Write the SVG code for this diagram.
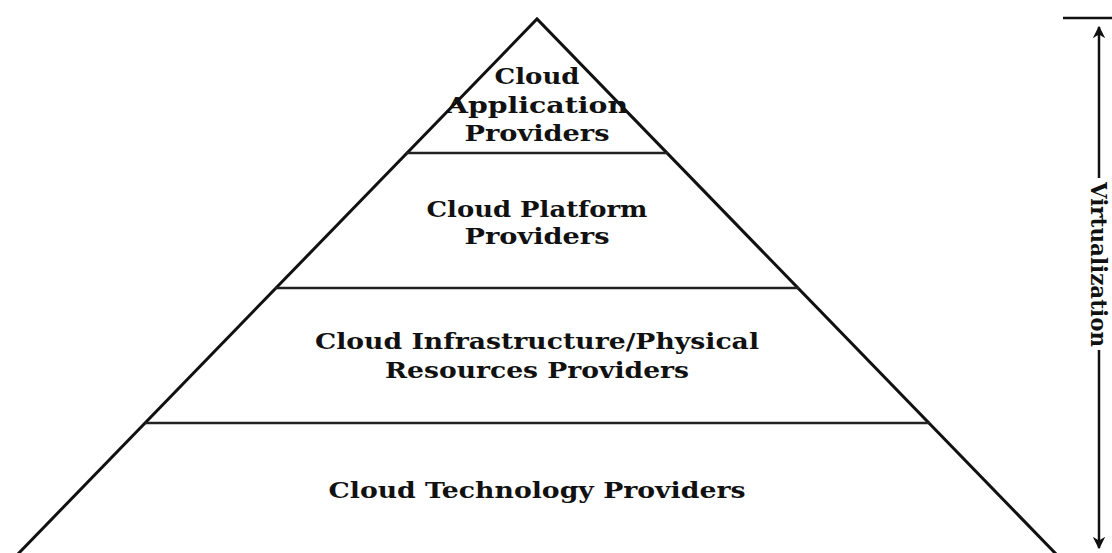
<svg xmlns="http://www.w3.org/2000/svg" width="1112" height="553" viewBox="0 0 1112 553">
<style>
.side{stroke:#111;stroke-width:3;fill:none;stroke-linecap:round}
.div{stroke:#222;stroke-width:2.5;fill:none}
.lbl{font-family:"DejaVu Serif","Liberation Serif",serif;font-weight:bold;font-size:23px;fill:#111;text-anchor:middle}
.arr{stroke:#111;stroke-width:2.5;fill:none}
</style>
<defs>
<marker id="ah" viewBox="0 0 10 10" refX="9" refY="5" markerWidth="5" markerHeight="5" orient="auto-start-reverse" markerUnits="strokeWidth">
<path d="M0,0 L10,5 L0,10 L3,5 Z" fill="#111"/>
</marker>
</defs>
<rect width="1112" height="553" fill="#fff"/>
<g id="pyramid">
<path class="side" d="M17,555 L537,19 L1057,555"/>
</g>
<g id="layer-application">
<line class="div" x1="406" y1="153" x2="668" y2="153"/>
<text class="lbl" x="537" y="84" textLength="85" lengthAdjust="spacingAndGlyphs">Cloud</text>
<text class="lbl" x="537" y="113" textLength="182" lengthAdjust="spacingAndGlyphs">Application</text>
<text class="lbl" x="537" y="141" textLength="145" lengthAdjust="spacingAndGlyphs">Providers</text>
</g>
<g id="layer-platform">
<line class="div" x1="275" y1="288" x2="799" y2="288"/>
<text class="lbl" x="537" y="217" textLength="221" lengthAdjust="spacingAndGlyphs">Cloud Platform</text>
<text class="lbl" x="537" y="244" textLength="145" lengthAdjust="spacingAndGlyphs">Providers</text>
</g>
<g id="layer-infrastructure">
<line class="div" x1="145" y1="423" x2="930" y2="423"/>
<text class="lbl" x="537" y="349" textLength="444" lengthAdjust="spacingAndGlyphs">Cloud Infrastructure/Physical</text>
<text class="lbl" x="537" y="378" textLength="304" lengthAdjust="spacingAndGlyphs">Resources Providers</text>
</g>
<g id="layer-technology">
<text class="lbl" x="537" y="498" textLength="417" lengthAdjust="spacingAndGlyphs">Cloud Technology Providers</text>
</g>
<g id="connectors">
<line class="arr" x1="1063" y1="18" x2="1112" y2="18"/>
<line class="arr" x1="1099" y1="178" x2="1099" y2="27" marker-end="url(#ah)"/>
<line class="arr" x1="1099" y1="350" x2="1099" y2="548" marker-end="url(#ah)"/>
</g>
<g id="virtualization">
<text class="lbl" style="font-size:22px" transform="translate(1091,264.5) rotate(90)" x="0" y="0" textLength="165" lengthAdjust="spacingAndGlyphs">Virtualization</text>
</g>
</svg>
